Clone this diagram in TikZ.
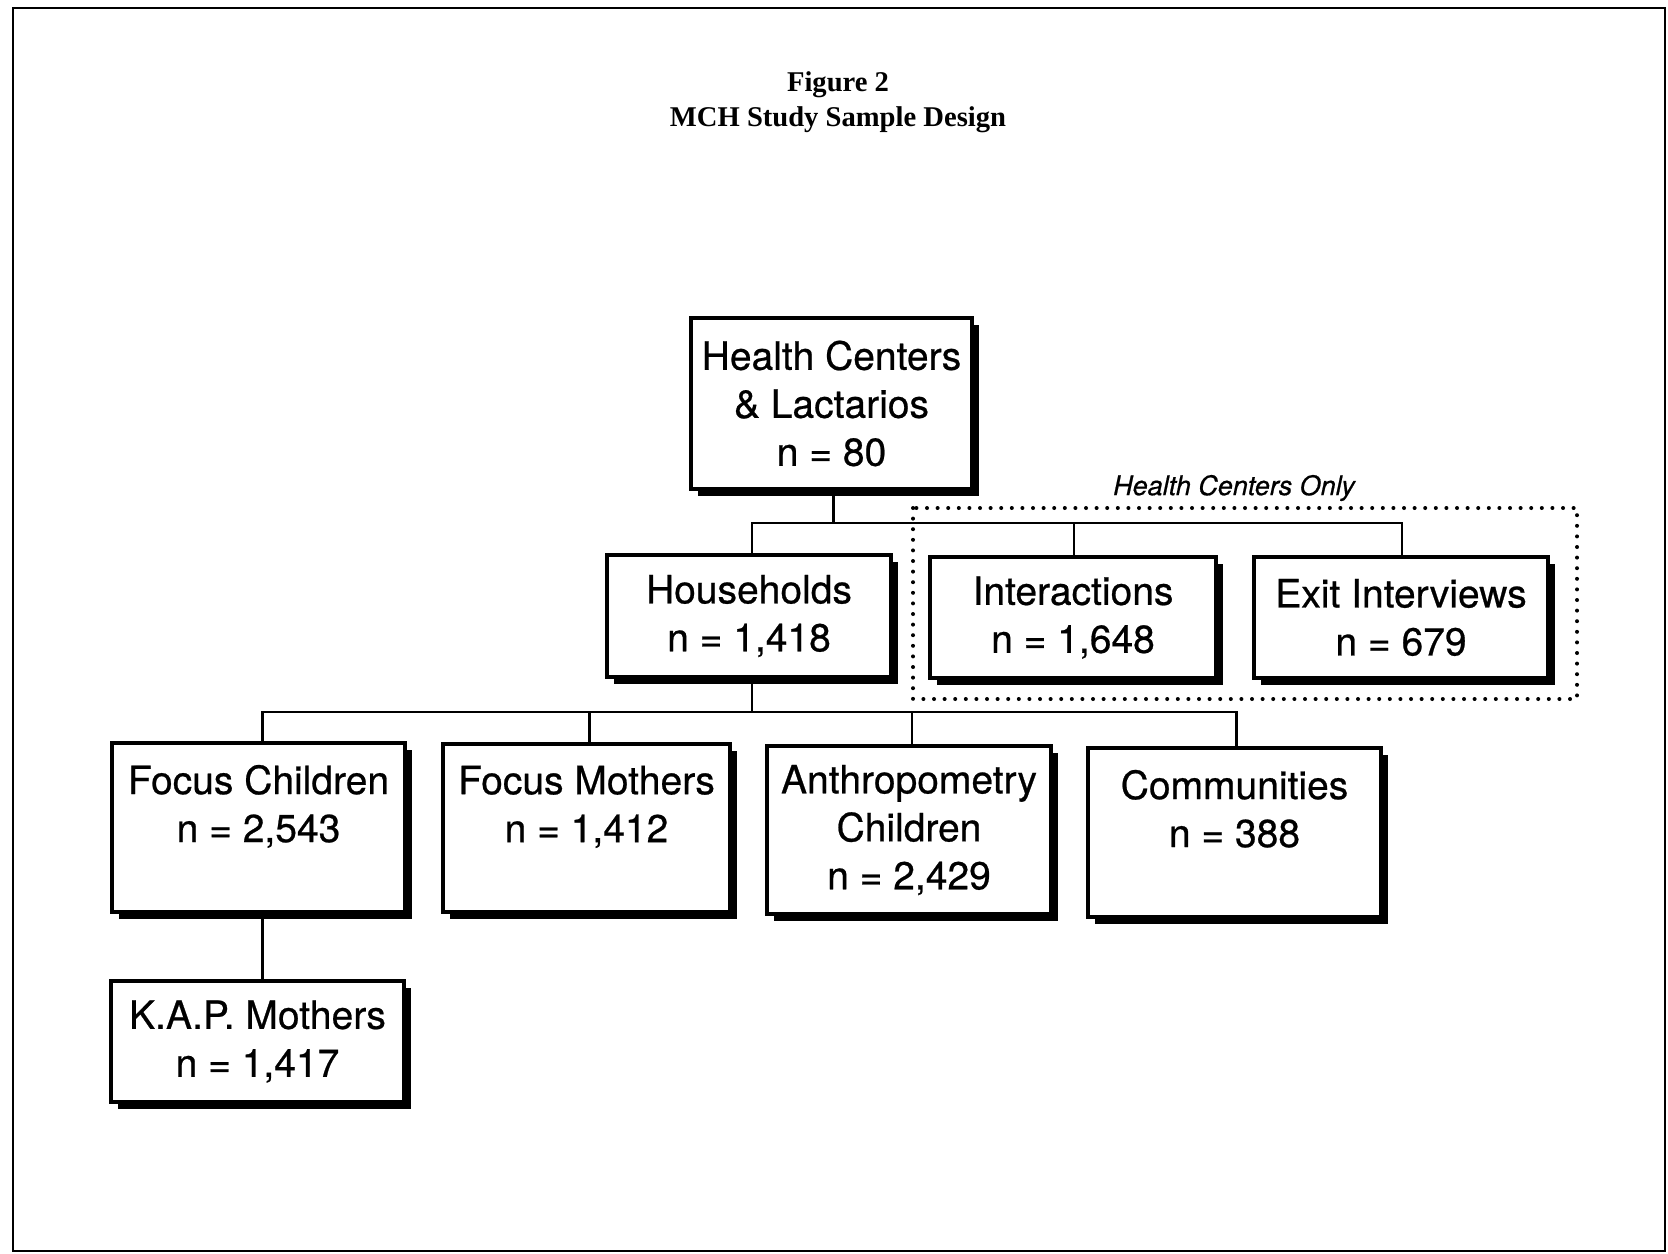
\documentclass[tikz,border=0pt]{standalone}
\usepackage{fontspec}
\setmainfont{Liberation Serif}
\setsansfont{TeX Gyre Heros}[FakeBold=0.6]
\usepackage{tikz}
\usetikzlibrary{shadows}

\tikzset{
	sbox/.style={draw, line width=1.6pt, fill=white, align=center, inner sep=0pt,
		font=\sffamily\fontsize{19.5}{24}\selectfont,
		drop shadow={shadow xshift=3.5pt, shadow yshift=-3.5pt, opacity=1, fill=black}},
	link/.style={line width=1.3pt},
	grp/.style={line width=2pt, line cap=round, dash pattern=on 0pt off 5.3pt}
}

\begin{document}
\begin{tikzpicture}[x=0.5pt,y=-0.5pt]
	\useasboundingbox (0,0) rectangle (1668,1253);
	\draw[line width=1.2pt] (13,8) rectangle (1665,1251);
	\node[align=center, font=\bfseries\fontsize{14.3}{17.5}\selectfont] (fig) at (838,102.5) {Figure 2\\MCH Study Sample Design};

	\coordinate (bus1) at (0,523);
	\coordinate (bus2) at (0,712);

	% health centers only
	\draw[grp] (913,508) rectangle (1577,699);
	\node[font=\sffamily\itshape\fontsize{13.5}{16}\selectfont] (hconly) at (1234,488) {Health Centers Only};

	\node[sbox, minimum width=140.5pt, minimum height=85.5pt] (hc) at (831.5,403.5) {Health Centers\\\& Lactarios\\n = 80};
	\node[sbox, minimum width=142pt, minimum height=61pt] (hh) at (749,616) {Households\\n = 1,418};
	\node[sbox, minimum width=143pt, minimum height=60.5pt] (ia) at (1073,617.5) {Interactions\\n = 1,648};
	\node[sbox, minimum width=147pt, minimum height=60.5pt] (ex) at (1401,617.5) {Exit Interviews\\n = 679};
	\node[sbox, minimum width=146.5pt, minimum height=84.5pt] (fc) at (258.5,827.5) {Focus Children\\n = 2,543\\\mbox{}};
	\node[sbox, minimum width=143.5pt, minimum height=84pt] (fm) at (586.5,828) {Focus Mothers\\n = 1,412\\\mbox{}};
	\node[sbox, minimum width=142pt, minimum height=84pt] (ac) at (909,830) {Anthropometry\\Children\\n = 2,429};
	\node[sbox, minimum width=146.5pt, minimum height=84.5pt] (cm) at (1234.5,832.5) {Communities\\n = 388\\\mbox{}};
	\node[sbox, minimum width=146.5pt, minimum height=60.5pt] (kap) at (257.5,1041.5) {K.A.P. Mothers\\n = 1,417};

	\draw[link] ([xshift=1pt]hc.south) -- ([xshift=1pt]hc.south |- bus1);
	\draw[link] ([xshift=1.5pt]hh.north) |- ([xshift=0.5pt]ex.north |- bus1) -- ([xshift=0.5pt]ex.north);
	\draw[link] ([xshift=0.5pt]ia.north) -- ([xshift=0.5pt]ia.north |- bus1);
	\draw[link] ([xshift=1.5pt]hh.south) -- ([xshift=1.5pt]hh.south |- bus2);
	\draw[link] ([xshift=2pt]fc.north) |- ([xshift=1pt]cm.north |- bus2) -- ([xshift=1pt]cm.north);
	\draw[link] ([xshift=1.5pt]fm.north) -- ([xshift=1.5pt]fm.north |- bus2);
	\draw[link] ([xshift=1.5pt]ac.north) -- ([xshift=1.5pt]ac.north |- bus2);
	\draw[link] ([xshift=2pt]fc.south) -- ([xshift=2pt]fc.south |- kap.north);
\end{tikzpicture}
\end{document}
